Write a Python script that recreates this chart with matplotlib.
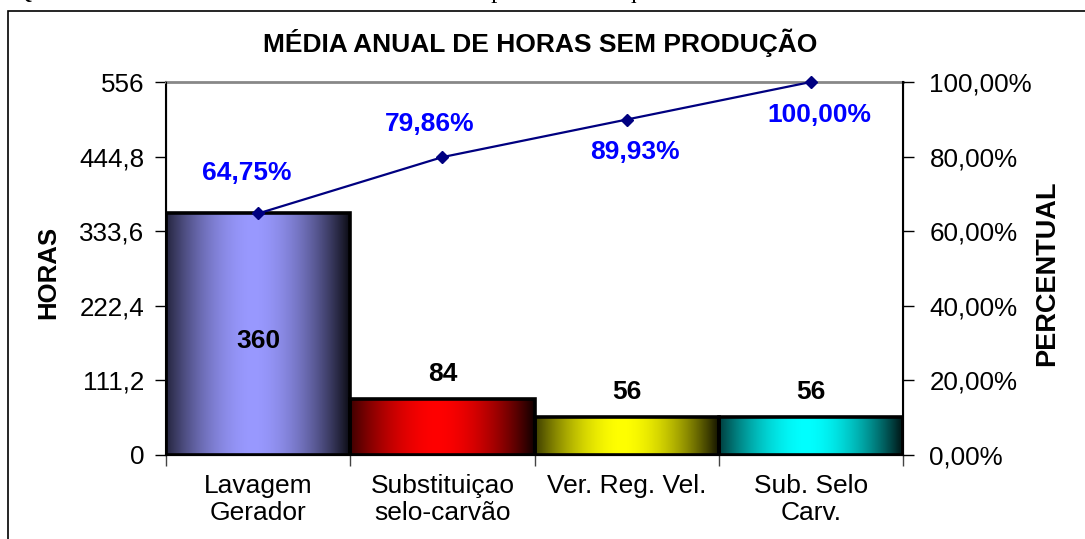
import numpy as np
import matplotlib
matplotlib.use("Agg")
import matplotlib.pyplot as plt
from matplotlib.patches import Rectangle
from matplotlib.ticker import FixedLocator

plt.rcParams['font.family'] = ['Liberation Sans', 'DejaVu Sans']

categories = ["Lavagem\nGerador", "Substituiçao\nselo-carvão", "Ver. Reg. Vel.", "Sub. Selo\nCarv."]
hours = [360, 84, 56, 56]
cum_pct = [64.75, 79.86, 89.93, 100.00]
pct_labels = ["64,75%", "79,86%", "89,93%", "100,00%"]
left_ticks = [0, 111.2, 222.4, 333.6, 444.8, 556]
left_tick_labels = ["0", "111,2", "222,4", "333,6", "444,8", "556"]
right_ticks = [0, 20, 40, 60, 80, 100]
right_tick_labels = ["0,00%", "20,00%", "40,00%", "60,00%", "80,00%", "100,00%"]
bar_colors = ["#9999FF", "#FF0000", "#FFFF00", "#00FFFF"]

title = "MÉDIA ANUAL DE HORAS SEM PRODUÇÃO"
caption = "Quadro 3: Gráfico de Pareto da média anual de parada de máquinas"

W, H = 1085, 539
fig = plt.figure(figsize=(W / 100, H / 100), dpi=100)

# outer border of the chart object
fig.patches.append(Rectangle((8 / W, -0.1), 1.2, 1 - 11 / H + 0.1, transform=fig.transFigure,
                             fill=False, edgecolor="black", linewidth=1.2))
# caption mostly clipped by the top edge
fig.text(14 / W, 1 + 2 / H, caption, family="Liberation Serif", fontsize=18,
         va="baseline", ha="left", color="black")

ax = fig.add_axes([166 / W, 1 - 455 / H, (903 - 166) / W, (455 - 82) / H])
x = np.arange(len(hours))
bars = ax.bar(x, hours, width=1.0, facecolor="none", edgecolor="black", linewidth=2.6, zorder=3)

# gradient fills
t = np.linspace(0, 1, 256)
prof = np.clip(1 - np.abs((t - 0.47) / 0.53) ** 1.8, 0, 1)
prof = 0.06 + 0.94 * prof
for b, c in zip(bars, bar_colors):
    rgb = np.array(matplotlib.colors.to_rgb(c))
    img = (prof[:, None] * rgb[None, :])[None, :, :]
    bb = b.get_bbox()
    im = ax.imshow(img, extent=[bb.x0, bb.x1, bb.y0, bb.y1], aspect="auto", zorder=2,
                   interpolation="bilinear")
    im.set_clip_path(b)

ax.set_xlim(-0.5, len(hours) - 0.5)
ax.set_ylim(0, 556)
ax.set_yticks(left_ticks)
ax.set_yticklabels(left_tick_labels, fontsize=18.7)
ax.set_xticks(x)
ax.set_xticklabels(categories, fontsize=19, linespacing=1.15)
ax.xaxis.set_minor_locator(FixedLocator(np.arange(-0.5, len(hours), 1.0)))
ax.tick_params(axis="x", which="major", length=0, pad=14)
ax.tick_params(axis="x", which="minor", length=8, width=1, color="#444444")
ax.tick_params(axis="y", length=8, width=1, pad=7.5)
ax.spines["top"].set_color("#888888")
ax.spines["top"].set_linewidth(2)
for s in ["left", "bottom"]:
    ax.spines[s].set_linewidth(1.5)

# bar value labels
for i, (b, v) in enumerate(zip(bars, hours)):
    if i == 0:
        ax.text(b.get_x() + b.get_width() / 2, v * 0.47, str(v), ha="center", va="center",
                fontsize=19, fontweight="bold", zorder=5)
    else:
        ax.annotate(str(v), (b.get_x() + b.get_width() / 2, v), xytext=(0, 18),
                    textcoords="offset points", ha="center", va="center",
                    fontsize=19, fontweight="bold", zorder=5)

ax2 = ax.twinx()
ax2.set_ylim(0, 100)
ax2.set_yticks(right_ticks)
ax2.set_yticklabels(right_tick_labels, fontsize=18.7)
ax2.tick_params(axis="y", length=8, width=1, pad=11)
ax2.spines["right"].set_linewidth(1.5)
ax2.spines["top"].set_visible(False)
ax2.plot(x, cum_pct, color="#000080", linewidth=1.6, marker="D", markersize=6.5, zorder=6,
         clip_on=False)
offsets = [(-8, 29), (-9, 24), (6, -23), (6, -24)]
for xi, p, lab, off in zip(x, cum_pct, pct_labels, offsets):
    ax2.annotate(lab, (xi, p), xytext=off, textcoords="offset points",
                 ha="center", va="center", fontsize=19, fontweight="bold", color="#0000FF")

fig.text(540 / W, 1 - 43 / H, title, ha="center", va="center", fontsize=19, fontweight="bold")
fig.text(48 / W, 1 - 272 / H, "HORAS", rotation=90, ha="center", va="center",
         fontsize=18.5, fontweight="bold")
fig.text(1047 / W, 1 - 273 / H, "PERCENTUAL", rotation=90, ha="center", va="center",
         fontsize=19.5, fontweight="bold")

fig.savefig("out.png", dpi=100)
